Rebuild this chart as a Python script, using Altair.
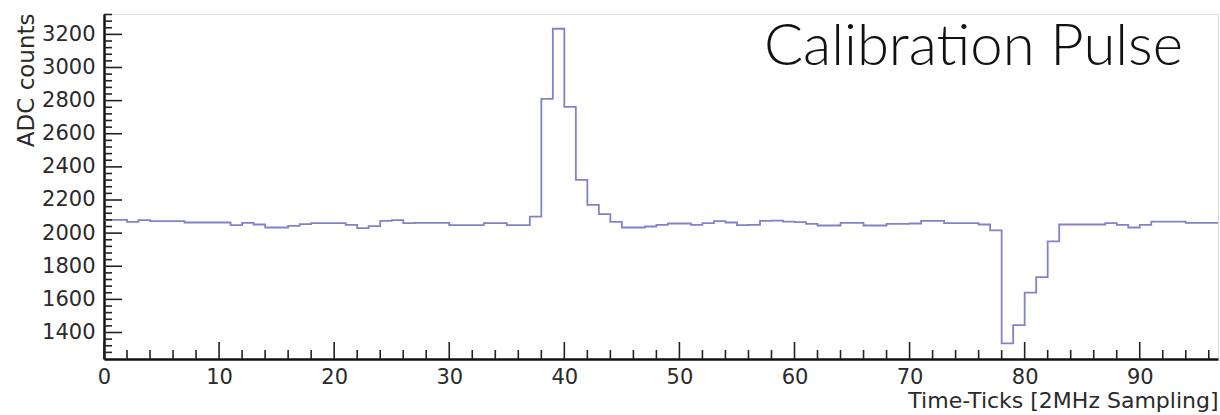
import altair as alt
import pandas as pd

# bin values (ADC counts) for time ticks 0..96, bin width 1
adc_values = [
    2080, 2080, 2068, 2078, 2072, 2072, 2072, 2064, 2064, 2064,
    2064, 2048, 2062, 2052, 2034, 2034, 2044, 2054, 2060, 2060,
    2060, 2050, 2030, 2042, 2074, 2078, 2060, 2062, 2062, 2062,
    2048, 2048, 2048, 2060, 2060, 2048, 2048, 2100, 2810, 3234,
    2762, 2322, 2170, 2115, 2068, 2034, 2034, 2040, 2050, 2058,
    2058, 2050, 2060, 2072, 2064, 2048, 2050, 2074, 2076, 2070,
    2066, 2056, 2046, 2046, 2062, 2062, 2046, 2046, 2056, 2056,
    2058, 2074, 2074, 2060, 2060, 2060, 2052, 2016, 1334, 1445,
    1641, 1734, 1950, 2052, 2052, 2052, 2052, 2060, 2050, 2034,
    2050, 2070, 2070, 2070, 2062, 2062, 2062,
]
x_major_ticks = [0, 10, 20, 30, 40, 50, 60, 70, 80, 90]
x_minor_ticks = [2, 4, 6, 8, 12, 14, 16, 18, 22, 24, 26, 28, 32, 34, 36, 38,
                 42, 44, 46, 48, 52, 54, 56, 58, 62, 64, 66, 68, 72, 74, 76, 78,
                 82, 84, 86, 88, 92, 94, 96]
y_major_ticks = [1400, 1600, 1800, 2000, 2200, 2400, 2600, 2800, 3000, 3200]
y_minor_ticks = [1280, 1320, 1360, 1440, 1480, 1520, 1560, 1640, 1680, 1720, 1760,
                 1840, 1880, 1920, 1960, 2040, 2080, 2120, 2160, 2240, 2280, 2320,
                 2360, 2440, 2480, 2520, 2560, 2640, 2680, 2720, 2760, 2840, 2880,
                 2920, 2960, 3040, 3080, 3120, 3160, 3240, 3280, 3320]
x_title = "Time-Ticks [2MHz Sampling]"
y_title = "ADC counts"
label_text = "Calibration Pulse"

X_DOMAIN = [0, 96.8]
Y_DOMAIN = [1240, 3323]
W, H = 1114, 345
FONT = "DejaVu Sans"

edges = list(range(len(adc_values) + 1))
step_df = pd.DataFrame({"t": edges, "adc": adc_values + [adc_values[-1]]})

xs = alt.Scale(domain=X_DOMAIN, nice=False, zero=False)
ys = alt.Scale(domain=Y_DOMAIN, nice=False, zero=False)

x_axis = alt.Axis(
    values=x_major_ticks, title=x_title, format="d", tickSize=0,
    labelPadding=7, labelFontSize=21, labelFont=FONT, labelColor="#2a2a2a",
    labelFlush=False, labelOverlap=False,
    domainColor="#111", domainWidth=2.5, grid=False,
    titleFont=FONT, titleFontSize=22, titleFontWeight="normal", titleColor="#2a2a2a",
    titleX=W, titleY=41, titleAlign="right", titleBaseline="middle",
)
y_axis = alt.Axis(
    values=y_major_ticks, title=y_title, format="d", tickSize=0,
    labelPadding=9, labelFontSize=21, labelFont=FONT, labelColor="#2a2a2a",
    labelFlush=False, labelOverlap=False,
    domainColor="#111", domainWidth=2.5, grid=False,
    titleFont=FONT, titleFontSize=23, titleFontWeight="normal", titleColor="#2a2a2a",
    titleAngle=-90, titleX=-78, titleY=-1, titleAlign="right", titleBaseline="middle",
)

line = alt.Chart(step_df).mark_line(
    interpolate="step-after", color="#8282cc", strokeWidth=1.8, clip=True
).encode(
    x=alt.X("t:Q", scale=xs, axis=x_axis),
    y=alt.Y("adc:Q", scale=ys, axis=y_axis),
)

def yticks(vals, length):
    return alt.Chart(pd.DataFrame({"adc": vals})).mark_rule(color="#222", strokeWidth=1.6).encode(
        y=alt.Y("adc:Q", scale=ys, axis=y_axis),
        x=alt.value(0), x2=alt.value(length),
    )

def xticks(vals, length):
    return alt.Chart(pd.DataFrame({"t": vals})).mark_rule(color="#222", strokeWidth=1.6).encode(
        x=alt.X("t:Q", scale=xs, axis=x_axis),
        y=alt.value(H), y2=alt.value(H - length),
    )

label = alt.Chart(pd.DataFrame({"txt": [label_text]})).mark_text(
    font="Lato", fontWeight=300, fontSize=58, align="right", baseline="alphabetic", color="#111"
).encode(text="txt:N", x=alt.value(1079), y=alt.value(51))

chart = alt.layer(
    line, yticks(y_minor_ticks, 8), yticks(y_major_ticks, 18),
    xticks(x_minor_ticks, 9), xticks(x_major_ticks, 17), label
).properties(
    width=W, height=H,
    padding={"left": 104, "top": 14, "right": 2, "bottom": 56},
    autosize="none",
).configure_view(stroke="#999", strokeWidth=2.5).configure(background="white")

chart.save("out.html", embed_options={"renderer": "svg", "actions": False})
